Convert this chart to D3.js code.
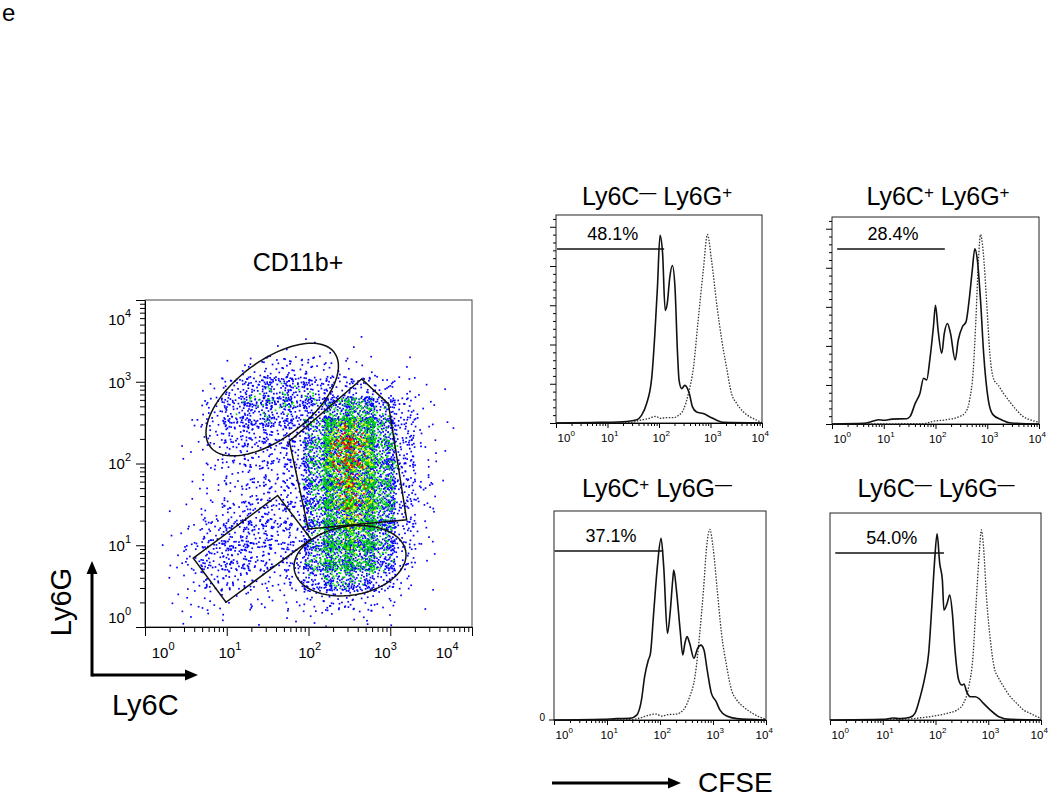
<!DOCTYPE html>
<html>
<head>
<meta charset="utf-8">
<script src="https://cdn.jsdelivr.net/npm/d3@7"></script>
<style>
body { margin: 0; background: #fff; }
svg { display: block; font-family: "Liberation Sans", Arial, Helvetica, sans-serif; }
</style>
</head>
<body>
<svg id="fig" width="1050" height="797"></svg>
<script>
// ---- data ----

// decades of the log axes
var decades = [0, 1, 2, 3, 4];

// dot plot: events per 0.25-decade bin, rows from Ly6G 10^4 down to 10^0,
// columns from Ly6C 10^0 to 10^4
var binSize = 0.25;
var scatterCounts = [
  [0,0,0,0,0,0,0,0,0,0,0,0,0,0,0,0],
  [0,0,0,0,0,0,0,0,0,0,0,0,0,0,0,0],
  [0,0,0,0,0,0,2,3,2,1,2,0,1,0,0,0],
  [0,0,0,0,4,14,24,24,14,8,6,3,2,0,0,0],
  [0,0,0,8,36,60,70,66,48,32,36,24,10,4,1,0],
  [0,0,2,24,50,62,62,54,44,140,160,90,28,7,1,0],
  [0,0,4,18,36,40,36,32,100,280,260,130,40,9,1,0],
  [0,0,3,10,18,22,24,34,130,300,270,130,40,8,1,0],
  [0,0,2,7,14,18,20,28,120,250,250,140,36,9,1,0],
  [0,0,2,7,11,18,20,26,110,230,250,150,40,12,1,0],
  [0,1,4,14,25,32,28,24,95,210,230,140,30,7,0,0],
  [0,2,10,28,40,40,25,22,90,180,195,115,28,7,0,0],
  [0,3,20,36,45,32,18,36,100,180,170,105,28,4,0,0],
  [0,2,13,25,25,14,11,27,80,115,90,54,14,2,0,0],
  [0,1,7,9,7,7,5,9,18,25,21,11,4,1,0,0],
  [0,1,4,4,2,2,2,4,5,5,5,4,1,0,0,0]
];

// gates on the dot plot, in decades (log10 Ly6C, log10 Ly6G)
var ellipseGates = [
  { cx: 1.556, cy: 2.782, rx: 0.953, ry: 0.471, angle: 37.3 },
  { cx: 2.508, cy: 0.811, rx: 0.691, ry: 0.421, angle: 9.6 }
];
var pentagonGate = [[1.765, 2.271], [2.651, 3.035], [2.977, 2.729], [3.201, 1.311], [1.998, 1.198]];
var rectGate = [[0.591, 0.842], [1.623, 1.609], [2.031, 1.075], [0.991, 0.303]];

// CFSE histograms: [log10 CFSE, % of max]
var p1Solid = [[0,0],[0.85,0.3],[1.37,0.8],[1.57,1.7],[1.66,3.9],[1.76,9.9],[1.86,23.4],[1.92,45.5],[1.97,69.3],[2.02,95.6],[2.07,86.3],[2.12,57.4],[2.16,60.8],[2.21,74.4],[2.26,80.3],[2.31,69.3],[2.36,35.3],[2.39,21.7],[2.44,17.5],[2.5,19.2],[2.59,14.9],[2.65,8.2],[2.73,5.6],[2.86,4.8],[2.99,3.1],[3.12,1.4],[3.25,0.3],[4,0]];
var p1Dotted = [[0,0],[1.44,0.2],[1.63,1.4],[1.79,2.2],[1.94,3.4],[2.02,2.4],[2.15,2.7],[2.28,2.7],[2.38,3.9],[2.47,6.5],[2.57,14.9],[2.67,28.5],[2.76,52.3],[2.86,77.8],[2.94,96.1],[3.02,82.9],[3.12,60.8],[3.22,42.1],[3.31,28.5],[3.41,14.9],[3.51,9.9],[3.64,5.6],[3.77,3.1],[3.9,1.4],[4,0.2]];
var p2Solid = [[0,0],[0.61,0.3],[0.8,1.5],[0.9,2.2],[1,1.9],[1.16,2.5],[1.44,2.7],[1.51,3.9],[1.61,10.7],[1.7,15.8],[1.77,23.4],[1.83,22.6],[1.89,32.8],[1.96,49.8],[2,60.8],[2.05,48.1],[2.12,36.2],[2.17,46.4],[2.23,51.5],[2.29,46.4],[2.38,32.8],[2.44,43],[2.52,49.8],[2.59,52.3],[2.65,63.4],[2.71,78.6],[2.76,89.7],[2.81,83.7],[2.87,63.4],[2.93,36.2],[3.02,12.4],[3.11,4.8],[3.27,2.2],[3.47,0.5],[4,0]];
var p2Dotted = [[0,0],[1.77,0.2],[1.96,1.4],[2.22,2.2],[2.47,3.9],[2.57,5.6],[2.66,12.4],[2.73,27.7],[2.78,53.2],[2.83,83.7],[2.87,97],[2.92,88.8],[2.99,61.7],[3.05,36.2],[3.13,22.6],[3.21,20],[3.31,15.8],[3.43,11.6],[3.56,7.3],[3.69,3.9],[3.82,2.2],[4,1]];
var p3Solid = [[0,0],[0.93,0.3],[1.18,0.7],[1.43,0.8],[1.56,2.5],[1.65,10.1],[1.71,22],[1.78,30.4],[1.82,33.8],[1.88,54.1],[1.95,77.8],[2.02,92.1],[2.07,77.8],[2.14,44],[2.19,54.1],[2.24,71],[2.26,76.1],[2.31,65.9],[2.38,45.6],[2.43,33],[2.47,38.9],[2.51,42.3],[2.56,38.9],[2.64,31.3],[2.71,36.3],[2.77,38],[2.83,35.5],[2.89,25.4],[2.97,13.5],[3.06,9.3],[3.13,5.1],[3.26,2],[3.45,0.7],[4,0]];
var p3Dotted = [[0,0],[1.43,0.2],[1.62,1],[1.78,2.4],[1.93,3],[2.03,2],[2.15,2.7],[2.31,3],[2.44,5.1],[2.56,11.8],[2.66,22],[2.75,44],[2.82,65.9],[2.88,87.9],[2.94,96.7],[3,87.9],[3.08,65.9],[3.16,44],[3.26,27],[3.35,15.2],[3.45,10.1],[3.57,6.8],[3.7,4.2],[3.86,1.7],[4,0.5]];
var p4Solid = [[0,0],[1.01,0.3],[1.2,1],[1.33,0.7],[1.52,1.4],[1.61,3.4],[1.71,11.9],[1.8,22.2],[1.87,34.1],[1.93,58],[1.98,80.2],[2.03,95.3],[2.08,80.2],[2.13,71.7],[2.16,56.3],[2.22,59.7],[2.27,64],[2.32,54.6],[2.37,35.8],[2.44,20.5],[2.5,17.9],[2.54,18.4],[2.59,14.5],[2.66,11.9],[2.75,11.9],[2.82,11.1],[2.91,8.5],[3.04,5.1],[3.2,1.7],[3.42,0.3],[4,0]];
var p4Dotted = [[0,0],[1.27,0.2],[1.65,0.9],[1.96,2],[2.22,3.4],[2.41,5.1],[2.53,8.5],[2.63,17.1],[2.71,32.4],[2.77,59.7],[2.83,85.4],[2.87,97.3],[2.91,88.8],[2.97,61.5],[3.04,41],[3.11,27.3],[3.2,21.3],[3.29,17.1],[3.42,11.9],[3.54,8.5],[3.67,5.1],[3.8,3.4],[3.92,1.7],[4,1]];

var histTitles = [["Ly6C", "\u2014", "Ly6G", "+"], ["Ly6C", "+", "Ly6G", "+"], ["Ly6C", "+", "Ly6G", "\u2014"], ["Ly6C", "\u2014", "Ly6G", "\u2014"]];
var gatePct = ["48.1%", "28.4%", "37.1%", "54.0%"];
var gateFrom = [0.02, 0.1, 0.01, 0.1];
var gateTo = [2.1, 2.18, 2.06, 2.16];
var gateLevel = [88.7, 89.6, 85.7, 85.5];

// ---- drawing ----
var svg = d3.select("#fig");
var dotColors = ["#0000ff", "#00dd00", "#ffff00", "#ff0000"];

function p10(v) { return Math.pow(10, v); }
function isMajor(d) { var l = Math.log10(d); return Math.abs(l - Math.round(l)) < 1e-9; }
function logTicks() {
  var t = [];
  for (var d = 0; d < 4; d++) for (var m = 1; m < 10; m++) t.push(m * p10(d));
  t.push(1e4);
  return t;
}
function halton(i, b) {
  var f = 1, r = 0;
  while (i > 0) { f /= b; r += f * (i % b); i = Math.floor(i / b); }
  return r;
}

svg.append("text").attr("x", 2).attr("y", 21).attr("font-size", 24).text("e");

// ===== dot plot =====
var sx = d3.scaleLog().domain([1, 1e4]).range([145, 472]);
var sy = d3.scaleLog().domain([1, 1e4]).range([627, 300]);

svg.append("text").attr("x", 298).attr("y", 271).attr("text-anchor", "middle")
  .attr("font-size", 25).text("CD11b+");

svg.append("clipPath").attr("id", "plotClip").append("rect")
  .attr("x", sx.range()[0]).attr("y", sy.range()[1])
  .attr("width", sx.range()[1] - sx.range()[0]).attr("height", sy.range()[0] - sy.range()[1]);

var nRows = scatterCounts.length, nCols = scatterCounts[0].length;
function density(lx, ly) {
  var u = lx / binSize - 0.5, v = (4 - ly) / binSize - 0.5;
  u = Math.max(0, Math.min(nCols - 1.001, u));
  v = Math.max(0, Math.min(nRows - 1.001, v));
  var c = Math.floor(u), r = Math.floor(v), fu = u - c, fv = v - r;
  var a = scatterCounts[r][c], b = scatterCounts[r][c + 1];
  var e = scatterCounts[r + 1][c], f = scatterCounts[r + 1][c + 1];
  return (a * (1 - fu) + b * fu) * (1 - fv) + (e * (1 - fu) + f * fu) * fv;
}

var events = [];
var idx = 1;
scatterCounts.forEach(function(row, r) {
  row.forEach(function(n, c) {
    for (var k = 0; k < n; k++, idx++) {
      var lx = (c + 0.5 + (halton(idx, 2) - 0.5) * 1.5) * binSize;
      var ly = 4 - (r + 0.5 + (halton(idx, 3) - 0.5) * 1.5) * binSize;
      if (lx < 0 || lx > 4 || ly < 0 || ly > 4) continue;
      var d = halton(idx, 5) * Math.sqrt(density(lx, ly) / 200);
      var level = d > 1.02 ? 3 : d > 0.9 ? 2 : d > 0.47 ? 1 : 0;
      events.push({ x: p10(lx), y: p10(ly), level: level });
    }
  });
});
events.sort(function(a, b) { return a.level - b.level; });

svg.append("g").attr("clip-path", "url(#plotClip)")
  .selectAll("rect").data(events).enter().append("rect")
  .attr("x", function(d) { return sx(d.x) - 0.85; })
  .attr("y", function(d) { return sy(d.y) - 0.85; })
  .attr("width", 1.7).attr("height", 1.7)
  .attr("fill", function(d) { return dotColors[d.level]; });

// gates
var gateLine = d3.line()
  .x(function(p) { return sx(p10(p[0])); })
  .y(function(p) { return sy(p10(p[1])); });
function ellipsePoints(e) {
  var pts = [], th = e.angle * Math.PI / 180;
  for (var i = 0; i < 120; i++) {
    var t = i / 120 * 2 * Math.PI;
    var px = e.rx * Math.cos(t), py = e.ry * Math.sin(t);
    pts.push([e.cx + px * Math.cos(th) - py * Math.sin(th), e.cy + px * Math.sin(th) + py * Math.cos(th)]);
  }
  return pts;
}
var gates = ellipseGates.map(ellipsePoints).concat([pentagonGate, rectGate]);
svg.append("g").selectAll("path").data(gates).enter().append("path")
  .attr("d", function(g) { return gateLine(g) + "Z"; })
  .attr("fill", "none").attr("stroke", "#111").attr("stroke-width", 1.5);

// frame and axes
svg.append("rect").attr("x", sx.range()[0]).attr("y", sy.range()[1])
  .attr("width", sx.range()[1] - sx.range()[0]).attr("height", sy.range()[0] - sy.range()[1])
  .attr("fill", "none").attr("stroke", "#444").attr("stroke-width", 1);

var gx = svg.append("g").attr("transform", "translate(0," + sy.range()[0] + ")")
  .call(d3.axisBottom(sx).tickValues(logTicks()).tickFormat("").tickSizeOuter(0));
gx.selectAll(".tick line").attr("y2", function(d) { return isMajor(d) ? 9 : 5; });
var gy = svg.append("g").attr("transform", "translate(" + sx.range()[0] + ",0)")
  .call(d3.axisLeft(sy).tickValues(logTicks()).tickFormat("").tickSizeOuter(0));
gy.selectAll(".tick line").attr("x2", function(d) { return isMajor(d) ? -9 : -5; });

var xNudge = [15, 0, -2, -8, -28];
decades.forEach(function(d, i) {
  var t = svg.append("text").attr("x", sx(p10(d)) - 8.3 + xNudge[i]).attr("y", 658).attr("font-size", 15);
  t.append("tspan").text("10");
  t.append("tspan").attr("font-size", 11).attr("dy", -8).text(d);
});
var yNudge = [-4, 6, 5, 6, 25];
decades.forEach(function(d, i) {
  var t = svg.append("text").attr("x", 131).attr("y", sy(p10(d)) + yNudge[i])
    .attr("text-anchor", "end").attr("font-size", 15);
  t.append("tspan").text("10");
  t.append("tspan").attr("font-size", 11).attr("dy", -8).text(d);
});

// Ly6C / Ly6G arrows
function arrow(x1, y1, x2, y2) {
  svg.append("line").attr("x1", x1).attr("y1", y1).attr("x2", x2).attr("y2", y2)
    .attr("stroke", "#000").attr("stroke-width", 3);
}
arrow(92, 675, 187, 675);
arrow(92, 676.5, 92, 572);
svg.append("path").attr("d", "M185,669.5L198,675L185,680.5Z").attr("fill", "#000");
svg.append("path").attr("d", "M86.5,574L92,561L97.5,574Z").attr("fill", "#000");
svg.append("text").attr("x", 112).attr("y", 715).attr("font-size", 29).text("Ly6C");
svg.append("text").attr("transform", "translate(71,602) rotate(-90)")
  .attr("text-anchor", "middle").attr("font-size", 29).text("Ly6G");

// ===== CFSE histograms =====
var panels = [
  { x0: 556, x1: 762, yb: 423, yt: 215, tx: 657, ty: 205, yTicks: true, zero: false, solid: p1Solid, dotted: p1Dotted },
  { x0: 832, x1: 1039, yb: 424, yt: 217, tx: 938, ty: 205, yTicks: true, zero: false, solid: p2Solid, dotted: p2Dotted },
  { x0: 554, x1: 766, yb: 720, yt: 511, tx: 657, ty: 497, yTicks: false, zero: true, solid: p3Solid, dotted: p3Dotted },
  { x0: 830, x1: 1041, yb: 720, yt: 513, tx: 936, ty: 497, yTicks: false, zero: false, solid: p4Solid, dotted: p4Dotted }
];

panels.forEach(function(p, i) {
  var x = d3.scaleLog().domain([1, 1e4]).range([p.x0, p.x1]);
  var y = d3.scaleLinear().domain([0, 106]).range([p.yb, p.yt]);
  var g = svg.append("g");

  var parts = histTitles[i];
  var t = g.append("text").attr("x", p.tx).attr("y", p.ty).attr("text-anchor", "middle").attr("font-size", 25);
  t.append("tspan").text(parts[0]);
  t.append("tspan").attr("font-size", 17).attr("dy", -7).text(parts[1]);
  t.append("tspan").attr("dy", 7).text(" " + parts[2]);
  t.append("tspan").attr("font-size", 17).attr("dy", -7).text(parts[3]);

  g.append("rect").attr("x", p.x0).attr("y", p.yt).attr("width", p.x1 - p.x0).attr("height", p.yb - p.yt)
    .attr("fill", "none").attr("stroke", "#222").attr("stroke-width", 1);

  var ax = g.append("g").attr("transform", "translate(0," + p.yb + ")")
    .call(d3.axisBottom(x).tickValues(logTicks()).tickFormat("").tickSizeOuter(0));
  ax.selectAll(".tick line").attr("y2", function(d) { return isMajor(d) ? 5 : 3; });
  decades.forEach(function(d, k) {
    var shift = k === 0 ? 8 : (k === 4 ? -4 : 0);
    var lt = g.append("text").attr("x", x(p10(d)) - 6.4 + shift).attr("y", p.yb + 19).attr("font-size", 11.5);
    lt.append("tspan").text("10");
    lt.append("tspan").attr("font-size", 8).attr("dy", -6).text(d);
  });

  if (p.yTicks) {
    var yt = [];
    for (var v = 0; v <= 104; v += 4) yt.push(v);
    var ay = g.append("g").attr("transform", "translate(" + p.x0 + ",0)")
      .call(d3.axisLeft(y).tickValues(yt).tickFormat("").tickSizeOuter(0));
    ay.selectAll(".tick line").attr("x2", function(d) { return d % 20 === 0 ? -6 : -3; });
    ay.select(".domain").remove();
  }
  if (p.zero) {
    g.append("line").attr("x1", p.x0 - 5).attr("x2", p.x0).attr("y1", y(0)).attr("y2", y(0)).attr("stroke", "#000");
    g.append("text").attr("x", p.x0 - 9).attr("y", y(0) + 1).attr("text-anchor", "end")
      .attr("font-size", 10).text("0");
  }

  var line = d3.line().curve(d3.curveMonotoneX)
    .x(function(d) { return x(p10(d[0])); })
    .y(function(d) { return y(d[1]); });
  g.append("path").attr("d", line(p.dotted)).attr("fill", "none")
    .attr("stroke", "#333").attr("stroke-width", 1.3).attr("stroke-dasharray", "1.5,1.5");
  g.append("path").attr("d", line(p.solid)).attr("fill", "none")
    .attr("stroke", "#111").attr("stroke-width", 1.6);

  // marker gate and percentage
  g.append("line").attr("x1", x(p10(gateFrom[i]))).attr("x2", x(p10(gateTo[i])))
    .attr("y1", y(gateLevel[i])).attr("y2", y(gateLevel[i]))
    .attr("stroke", "#111").attr("stroke-width", 1.6);
  g.append("text").attr("x", x(p10((gateFrom[i] + gateTo[i]) / 2 + 0.04)))
    .attr("y", y(gateLevel[i]) - 9).attr("text-anchor", "middle").attr("font-size", 18)
    .text(gatePct[i]);
});

// CFSE arrow
svg.append("line").attr("x1", 552).attr("y1", 783).attr("x2", 670).attr("y2", 783)
  .attr("stroke", "#000").attr("stroke-width", 3);
svg.append("path").attr("d", "M668,777.5L681,783L668,788.5Z").attr("fill", "#000");
svg.append("text").attr("x", 698).attr("y", 792).attr("font-size", 28).text("CFSE");
</script>
</body>
</html>
